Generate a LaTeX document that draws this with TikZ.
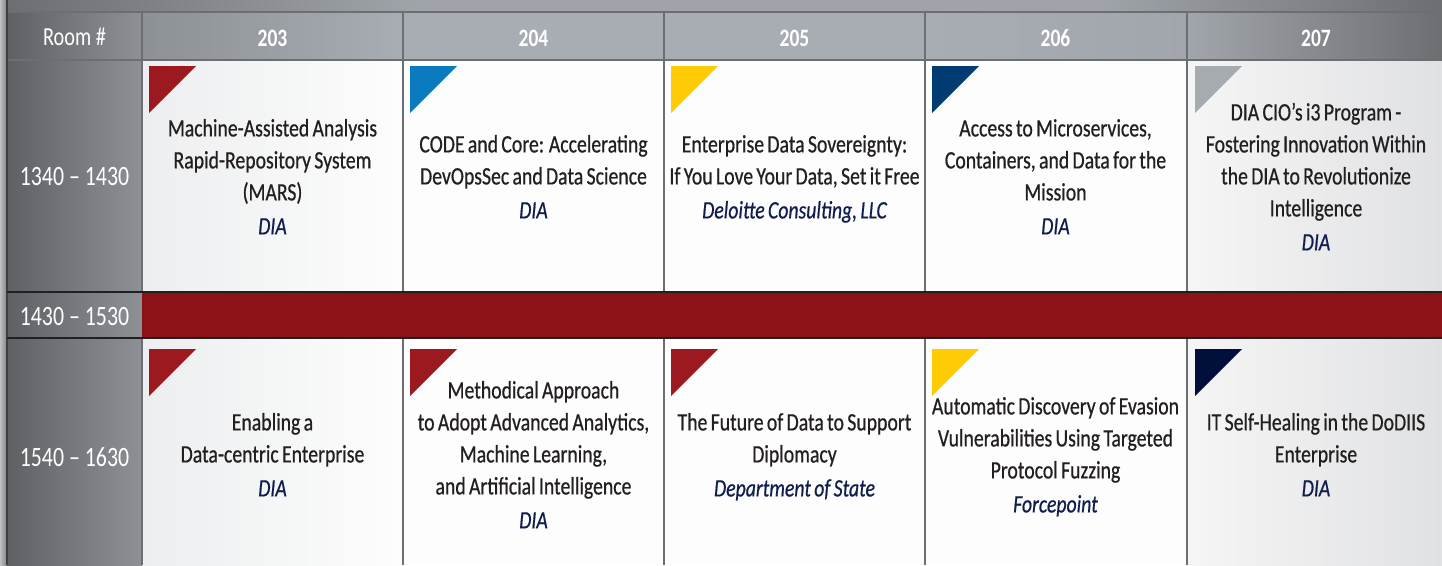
\documentclass[tikz,border=0pt]{standalone}
\usepackage{fontspec}
\setmainfont{Carlito}[FakeStretch=0.78]
\newfontfamily\bodyfont{Carlito}[FakeStretch=0.79, FakeBold=0.6]
\newcommand{\bodyfmt}{\bodyfont\fontsize{25}{32}\selectfont\spaceskip 3.3pt plus 1pt minus 0.5pt\relax}
\definecolor{txt}{HTML}{231F20}
\definecolor{auth}{HTML}{101D4D}
\definecolor{brk}{HTML}{8B1318}
\definecolor{tred}{HTML}{9C1A1F}
\definecolor{tblue}{HTML}{0A7BBF}
\definecolor{tyel}{HTML}{FFCB05}
\definecolor{tnavy}{HTML}{003B72}
\definecolor{tgray}{HTML}{A6ABB0}
\definecolor{tdark}{HTML}{00103A}
\definecolor{gridl}{HTML}{6D6E71}
\definecolor{gdark}{HTML}{5E6064}
\definecolor{gmid}{HTML}{8D9196}
\definecolor{glight}{HTML}{A8ADB3}
\definecolor{gedge}{HTML}{6C6E72}
\definecolor{sideA}{HTML}{BEC0C2}
\definecolor{sideB}{HTML}{808286}
\definecolor{cellL}{HTML}{ECEEEF}
\definecolor{cellW}{HTML}{FDFDFD}
\definecolor{cellR}{HTML}{E0E1E3}
\tikzset{
  body/.style={align=center, inner sep=0pt, text=txt, font=\bodyfmt},
  hdr/.style={text=white, inner sep=0pt, font=\bfseries\fontsize{25}{28}\selectfont},
  roomlbl/.style={text=white, inner sep=0pt, font=\fontsize{26}{30}\selectfont},
  timelbl/.style={text=white, inner sep=0pt, font=\fontsize{28}{32}\selectfont},
  gridline/.style={draw=gridl, line width=1.3pt},
  breakline/.style={draw=txt, line width=1.3pt},
}
\newcommand{\au}[1]{\\[2pt]{\itshape\color{auth}#1}\strut}
\newcommand{\tri}[3]{\fill[#1] (#2,#3) -- ++(47,0) -- ++(-47,47) -- cycle;}
\begin{document}
\begin{tikzpicture}[x=1pt,y=-1pt]
\useasboundingbox (0,0) rectangle (1442,565);
% left side strip
\shade[left color=sideA, right color=sideB] (0,0) rectangle (7,565);
% top strip
\shade[left color=gedge, right color=glight!95!black] (7,0) rectangle (420,12);
\fill[glight!95!black] (420,0) rectangle (1100,12);
\shade[left color=glight!95!black, right color=gedge] (1100,0) rectangle (1442,12);
% header row
\shade[left color=gdark, right color=gmid] (7,12) rectangle (142,60);
\shade[left color=gmid, right color=glight] (142,12) rectangle (403,60);
\fill[glight] (403,12) rectangle (925,60);
\shade[left color=glight, right color=glight!96!black] (925,12) rectangle (1187,60);
\shade[left color=glight!96!black, right color=gedge] (1187,12) rectangle (1442,60);
% time column
\shade[left color=gdark, right color=gmid] (7,60) rectangle (142,565);
% content cells
\shade[left color=cellL, right color=cellW] (142,60) rectangle (403,292);
\shade[left color=cellL, right color=cellW] (142,338) rectangle (403,565);
\fill[cellW] (403,60) rectangle (1187,292);
\fill[cellW] (403,338) rectangle (1187,565);
\shade[left color=cellW!97!black, right color=cellR] (1187,60) rectangle (1442,292);
\shade[left color=cellW!97!black, right color=cellR] (1187,338) rectangle (1442,565);
% break row
\fill[brk] (142,292) rectangle (1442,338);
% grid lines
\draw[gridline] (7,12) -- (1442,12);
\draw[gridline] (7,60) -- (1442,60);
\draw[draw=black!75, line width=1.2pt] (7,0) -- (7,565);
\foreach \xx in {142,403,664,925,1187} {
  \draw[gridline] (\xx,12) -- (\xx,292);
  \draw[gridline] (\xx,338) -- (\xx,565);
}
\draw[breakline] (7,292) -- (1442,292);
\draw[breakline] (7,338) -- (1442,338);
% triangles row 1
\tri{tred}{149}{66}
\tri{tblue}{410}{66}
\tri{tyel}{671}{66}
\tri{tnavy}{932}{66}
\tri{tgray}{1195}{66}
% triangles row 2
\tri{tred}{149}{349}
\tri{tred}{410}{349}
\tri{tred}{671}{349}
\tri{tyel}{932}{349}
\tri{tdark}{1195}{349}
% header texts
\node[roomlbl] (room) at (74.5,37) {Room \#};
\node[hdr] (h203) at (272.5,38) {203};
\node[hdr] (h204) at (533.5,38) {204};
\node[hdr] (h205) at (794.5,38) {205};
\node[hdr] (h206) at (1055.5,38) {206};
\node[hdr] (h207) at (1316,38) {207};
% time labels
\node[timelbl] (t1) at (74.5,177) {1340 – 1430};
\node[timelbl] (t2) at (74.5,317) {1430 – 1530};
\node[timelbl] (t3) at (74.5,457) {1540 – 1630};
% sessions row 1
\node[body] (s11) at (272.5,179) {\strut Machine-Assisted Analysis\\Rapid-Repository System\\(MARS)\au{DIA}};
\node[body] (s12) at (533.5,179) {\strut CODE and Core: Accelerating\\DevOpsSec and Data Science\au{DIA}};
\node[body] (s13) at (794.5,179) {\strut Enterprise Data Sovereignty:\\If You Love Your Data, Set it Free\au{Deloitte Consulting, LLC}};
\node[body] (s14) at (1055.5,179) {\strut Access to Microservices,\\Containers, and Data for the\\Mission\au{DIA}};
\node[body] (s15) at (1316,179) {\strut DIA CIO’s i3 Program -\\Fostering Innovation Within\\the DIA to Revolutionize\\Intelligence\au{DIA}};
% sessions row 2
\node[body] (s21) at (272.5,457) {\strut Enabling a\\Data-centric Enterprise\au{DIA}};
\node[body] (s22) at (533.5,457) {\strut Methodical Approach\\to Adopt Advanced Analytics,\\Machine Learning,\\and Artificial Intelligence\au{DIA}};
\node[body] (s23) at (794.5,457) {\strut The Future of Data to Support\\Diplomacy\au{Department of State}};
\node[body] (s24) at (1055.5,457) {\strut Automatic Discovery of Evasion\\Vulnerabilities Using Targeted\\Protocol Fuzzing\au{Forcepoint}};
\node[body] (s25) at (1316,457) {\strut IT Self-Healing in the DoDIIS\\Enterprise\au{DIA}};
\end{tikzpicture}
\end{document}
